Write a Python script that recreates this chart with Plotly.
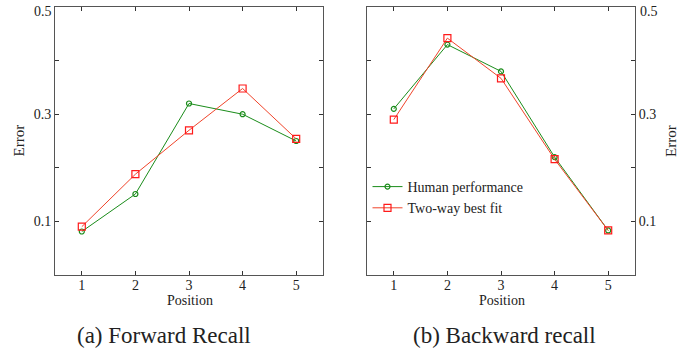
import plotly.graph_objects as go

positions = [1, 2, 3, 4, 5]
fwd_human = [0.081, 0.151, 0.320, 0.300, 0.250]
fwd_fit = [0.090, 0.188, 0.270, 0.348, 0.254]
bwd_human = [0.310, 0.430, 0.380, 0.220, 0.083]
bwd_fit = [0.290, 0.442, 0.367, 0.216, 0.083]
y_ticks = [0.1, 0.2, 0.3, 0.4, 0.5]
y_ticktext = ["0.1", "", "0.3", "", ""]
top_label = "0.5"
captions = ["(a) Forward Recall", "(b) Backward recall"]

W, H = 698, 353


def px(x):
    return x / W


def py(y):
    return min(1.0, max(0.0, 1 - y / H))


GREEN = "#1a8c1a"
RED_LINE = "#f0442a"
RED_MK = "#ff1a1a"
FONT = "Liberation Serif"

fig = go.Figure()


def add_pair(human, fit, xa, ya, show):
    fig.add_trace(go.Scatter(x=positions, y=human, mode="lines+markers", name="Human performance",
                             line=dict(color=GREEN, width=1),
                             marker=dict(symbol="circle-open", size=5, color=GREEN, line=dict(width=1.2)),
                             xaxis=xa, yaxis=ya, showlegend=show))
    fig.add_trace(go.Scatter(x=positions, y=fit, mode="lines+markers", name="Two-way best fit",
                             line=dict(color=RED_LINE, width=1),
                             marker=dict(symbol="square-open", size=7, color=RED_MK, line=dict(width=1.2)),
                             xaxis=xa, yaxis=ya, showlegend=show))


add_pair(fwd_human, fwd_fit, "x", "y", False)
add_pair(bwd_human, bwd_fit, "x2", "y2", True)

ydom = [py(275), py(7)]
axis_common = dict(showline=True, linecolor="#555555", linewidth=1, mirror="ticks",
                   ticks="inside", ticklen=4, tickcolor="#333333", showgrid=False, zeroline=False,
                   tickfont=dict(family=FONT, size=14, color="#222222"))
yr = [-0.0002, 0.5002]

fig.update_layout(
    width=W, height=H, margin=dict(l=0, r=0, t=0, b=0, autoexpand=False),
    paper_bgcolor="white", plot_bgcolor="white",
    font=dict(family=FONT, color="#222222"),
    hovermode=False,
    xaxis=dict(domain=[px(55), px(323)], range=[0.5, 5.5], tickvals=positions, anchor="y",
               ticklabelstandoff=-3, **axis_common),
    yaxis=dict(domain=ydom, range=yr, tickvals=y_ticks, ticktext=y_ticktext, anchor="x", **axis_common),
    xaxis2=dict(domain=[px(367), px(635)], range=[0.5, 5.5], tickvals=positions, anchor="y2",
                ticklabelstandoff=-3, **axis_common),
    yaxis2=dict(domain=ydom, range=yr, tickvals=y_ticks, ticktext=y_ticktext, anchor="x2",
                side="right", **axis_common),
    legend=dict(x=px(367.5), y=py(171), xanchor="left", yanchor="top", bgcolor="rgba(0,0,0,0)",
                font=dict(family=FONT, size=14, color="#222222"), tracegroupgap=4, itemwidth=30),
    showlegend=True,
)

ann = []
for cx in [190, 502]:
    ann.append(dict(x=px(cx), y=py(300.5), xref="paper", yref="paper", text="Position", showarrow=False,
                    font=dict(family=FONT, size=14), xanchor="center", yanchor="middle"))
ann.append(dict(x=px(18.5), y=py(141), xref="paper", yref="paper", text="Error", showarrow=False,
                textangle=-90, font=dict(family=FONT, size=15), xanchor="center", yanchor="middle"))
ann.append(dict(x=px(671), y=py(141), xref="paper", yref="paper", text="Error", showarrow=False,
                textangle=-90, font=dict(family=FONT, size=15), xanchor="center", yanchor="middle"))
ann.append(dict(x=px(164), y=py(335), xref="paper", yref="paper", text=captions[0], showarrow=False,
                font=dict(family=FONT, size=23), xanchor="center", yanchor="middle"))
ann.append(dict(x=px(504), y=py(335), xref="paper", yref="paper", text=captions[1], showarrow=False,
                font=dict(family=FONT, size=23), xanchor="center", yanchor="middle"))
ann.append(dict(x=px(53), y=py(11.5), xref="paper", yref="paper", text=top_label, showarrow=False,
                font=dict(family=FONT, size=14, color="#222222"), xanchor="right", yanchor="middle",
                borderpad=0))
ann.append(dict(x=px(639), y=py(11.5), xref="paper", yref="paper", text=top_label, showarrow=False,
                font=dict(family=FONT, size=14, color="#222222"), xanchor="left", yanchor="middle",
                borderpad=0))
fig.update_layout(annotations=ann)

fig.write_html("out.html", config={"displayModeBar": False},
               post_script="document.body.style.margin='0';")
